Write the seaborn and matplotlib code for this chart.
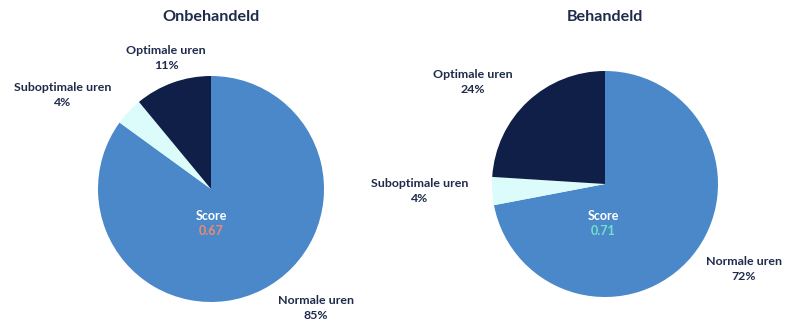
import matplotlib
matplotlib.use("Agg")
import matplotlib.pyplot as plt
import seaborn as sns

# Data
categories = ["Normale uren", "Suboptimale uren", "Optimale uren"]
untreated = [85, 4, 11]
treated = [72, 4, 24]
titles = ["Onbehandeld", "Behandeld"]
scores = [0.67, 0.71]

sns.set_theme(style="white")
plt.rcParams["font.family"] = ["Lato", "DejaVu Sans"]

colors = ["#4a88c9", "#dcfbfb", "#0f1f47"]
text_color = "#1f2b4b"
score_colors = ["#ee8a72", "#72e2c4"]

W, H = 787, 325
fig = plt.figure(figsize=(W / 100, H / 100), dpi=100)
ax = fig.add_axes([0, 0, 1, 1])


def py(y):
    # pixel row (from top) to data y (from bottom)
    return H - y


panels = [
    dict(values=untreated, cx=211, cy=189, r=113, title_x=211,
         labels={"Optimale uren": (166, 58), "Suboptimale uren": (63, 95),
                 "Normale uren": (316, 308)},
         score_xy=(211, 216)),
    dict(values=treated, cx=605, cy=184, r=113, title_x=605,
         labels={"Optimale uren": (473, 82), "Suboptimale uren": (420, 191),
                 "Normale uren": (744, 269)},
         score_xy=(603, 216)),
]

for i, p in enumerate(panels):
    ax.pie(p["values"], colors=colors, startangle=90, counterclock=False,
           center=(p["cx"], py(p["cy"])), radius=p["r"],
           wedgeprops=dict(linewidth=0), frame=True)
    ax.text(p["title_x"], py(17), titles[i], ha="center", va="center",
            fontsize=11.6, fontweight="bold", color=text_color)
    for cat, val in zip(categories, p["values"]):
        lx, ly = p["labels"][cat]
        ax.text(lx, py(ly), f"{cat}\n{val}%", ha="center", va="center",
                fontsize=8.9, fontweight="bold", color=text_color,
                linespacing=1.35)
    sx, sy = p["score_xy"]
    ax.text(sx, py(sy), "Score", ha="center", va="center",
            fontsize=9, fontweight="bold", color="white")
    ax.text(sx, py(sy + 15), f"{scores[i]:.2f}", ha="center", va="center",
            fontsize=9, fontweight="bold", color=score_colors[i])

ax.set_xlim(0, W)
ax.set_ylim(0, H)
ax.set_aspect("equal")
ax.axis("off")

fig.savefig("out.png", dpi=100, facecolor="white")
